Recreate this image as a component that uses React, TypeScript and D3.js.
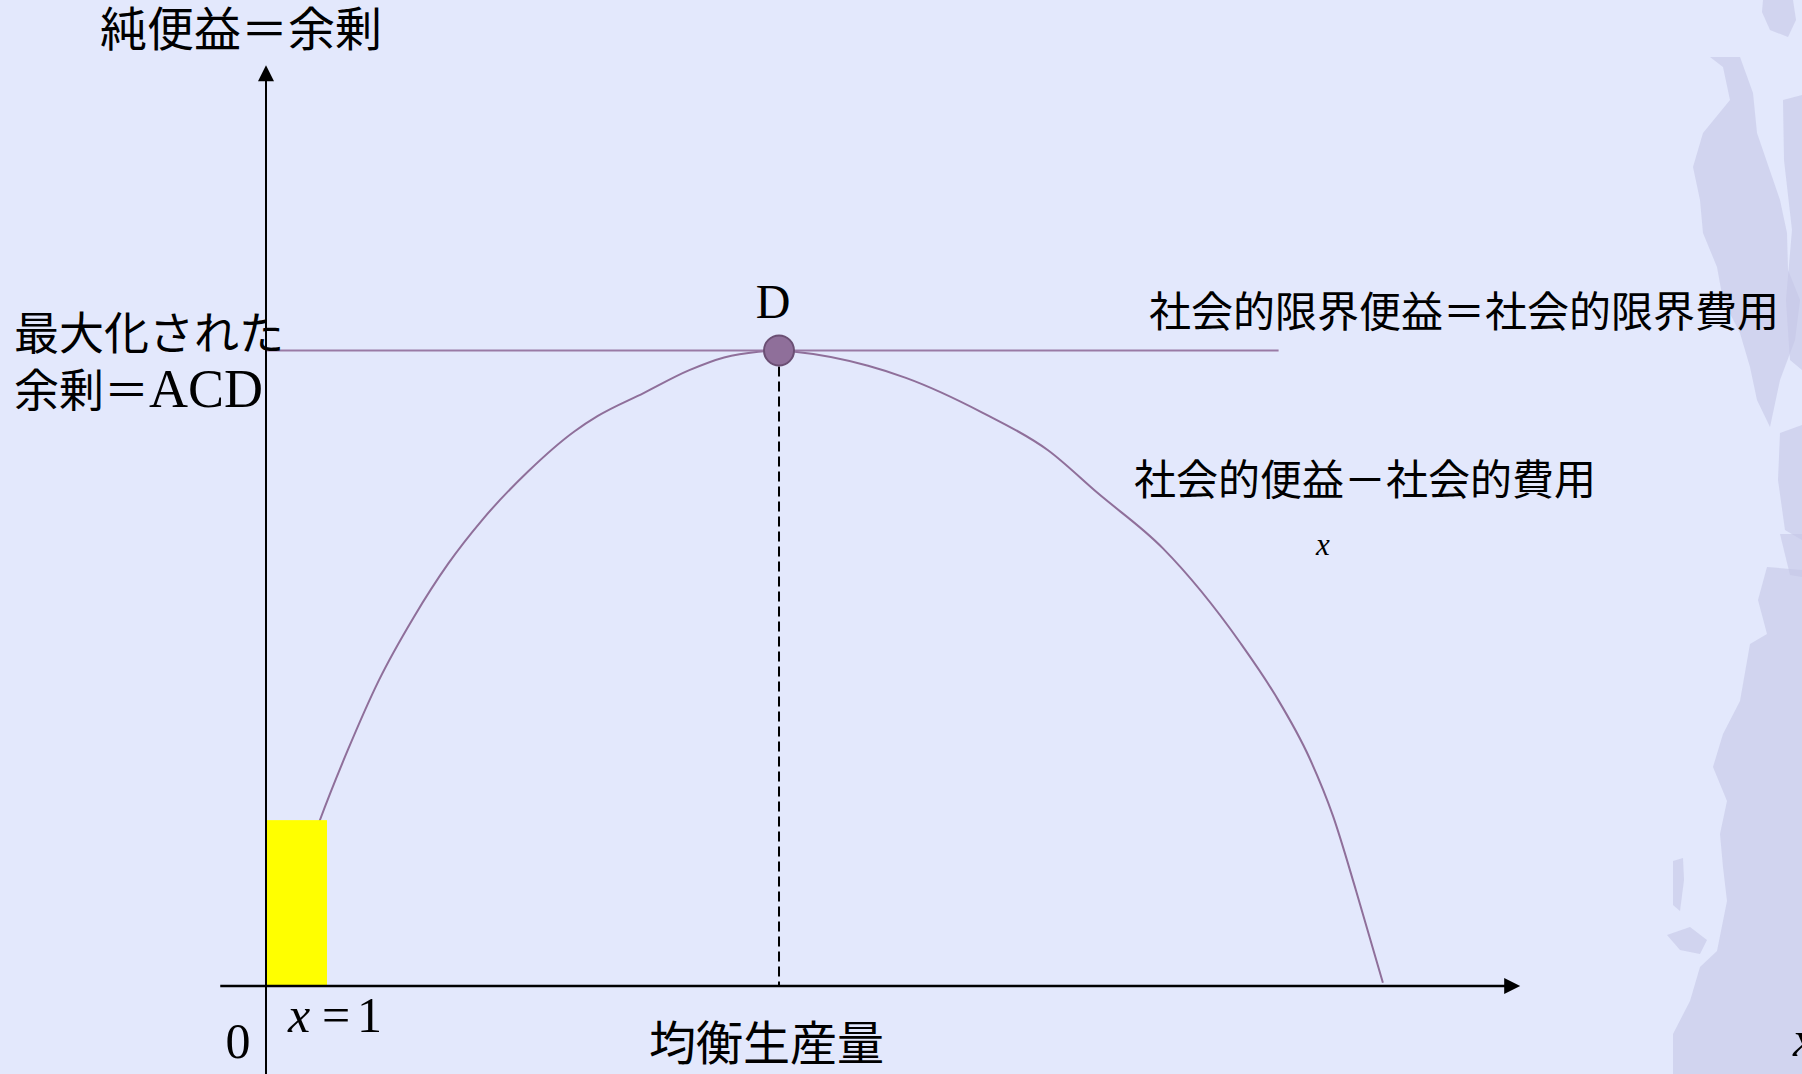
import React from "react";
import * as d3 from "d3";

// ---- data ----
// net benefit curve (social benefit − social cost), x in units of the x=1 bar width
const curveX = [0, 0.88, 1.34, 1.85, 2.42, 2.99, 3.55, 4.30, 5.06, 5.44, 6.19, 6.94, 7.51, 8.07, 8.41, 8.67, 9.87, 10.49, 11.75, 12.82, 13.63, 14.70, 15.98, 16.55, 17.11, 17.49, 17.87, 18.31];
const curveY = [0, 2.60, 3.71, 4.81, 5.80, 6.65, 7.34, 8.10, 8.73, 8.97, 9.33, 9.69, 9.89, 9.98, 10.0, 9.98, 9.76, 9.57, 9.02, 8.43, 7.76, 6.89, 5.39, 4.57, 3.58, 2.68, 1.50, 0.05];
const equilibriumX = 8.41;
const maxSurplus = 10;
const barX = [0, 1];
const barValue = 2.61;
const horizLineEnd = 16.6;
const xAxisRange = [-0.75, 20.56];
const yAxisRange = [-1.4, 14.49];

const labelYAxis = "純便益＝余剰";
const labelMax1 = "最大化された";
const labelMax2 = "余剰＝";
const labelACD = "ACD";
const labelD = "D";
const labelMarginal = "社会的限界便益＝社会的限界費用";
const labelNet = "社会的便益－社会的費用";
const labelEq = "均衡生産量";
const labelZero = "0";

const W = 1802;
const H = 1074;
const BG = "#e3e8fc";
const CURVE = "#8f6f9a";
const HLINE = "#9a7aa5";
const GRUNGE = "#c4c7e6";
const CJK = "'Noto Sans CJK JP', 'Noto Sans CJK SC', sans-serif";
const SERIF = "'Liberation Serif', 'DejaVu Serif', serif";

const grungeShapes: [number, number][][] = [
  [[1763, 0], [1793, 0], [1796, 20], [1788, 37], [1770, 30], [1762, 12]],
  [[1710, 57], [1740, 57], [1753, 93], [1757, 133], [1780, 200], [1787, 233], [1788, 270], [1800, 300], [1795, 340], [1780, 380], [1770, 427], [1757, 400], [1750, 367], [1740, 333], [1723, 300], [1717, 267], [1703, 233], [1700, 200], [1693, 167], [1703, 133], [1730, 100], [1723, 67]],
  [[1783, 100], [1802, 95], [1802, 370], [1790, 360], [1786, 300], [1792, 230], [1784, 160]],
  [[1780, 433], [1802, 425], [1802, 540], [1785, 530], [1778, 480]],
  [[1780, 534], [1802, 534], [1802, 577], [1790, 575]],
  [[1767, 567], [1802, 570], [1802, 1074], [1673, 1074], [1673, 1034], [1690, 1001], [1700, 967], [1717, 951], [1727, 901], [1723, 867], [1720, 834], [1727, 801], [1713, 767], [1723, 734], [1740, 701], [1750, 644], [1767, 634], [1758, 600]],
  [[1673, 861], [1683, 858], [1684, 880], [1680, 911], [1673, 905]],
  [[1667, 935], [1690, 927], [1707, 940], [1700, 954], [1680, 950]],
];

export default function App() {
  const x = d3.scaleLinear().domain([0, 20]).range([266, 266 + 61 * 20]);
  const y = d3.scaleLinear().domain([0, maxSurplus]).range([986, 350.5]);

  const pts: [number, number][] = curveX.map((v, i) => [v, curveY[i]]);
  const line = d3
    .line<[number, number]>()
    .x((d) => x(d[0]))
    .y((d) => y(d[1]))
    .curve(d3.curveMonotoneX);

  const x0 = x(0);
  const y0 = y(0);
  const xEnd = x(xAxisRange[1]);
  const yTop = y(yAxisRange[1]);
  const Dx = x(equilibriumX);
  const Dy = y(maxSurplus);

  return (
    <svg
      width={W}
      height={H}
      style={{ position: "fixed", left: 0, top: 0, display: "block" }}
      xmlns="http://www.w3.org/2000/svg"
    >
      <rect x={0} y={0} width={W} height={H} fill={BG} />
      {grungeShapes.map((s, i) => (
        <polygon key={i} points={s.map((p) => p.join(",")).join(" ")} fill={GRUNGE} opacity={0.6} />
      ))}

      {/* curve */}
      <path d={line(pts) || ""} fill="none" stroke={CURVE} strokeWidth={2} />

      {/* yellow bar x in [0,1] */}
      <rect
        x={x(barX[0])}
        y={y(barValue)}
        width={x(barX[1]) - x(barX[0])}
        height={y(0) - y(barValue)}
        fill="#ffff00"
      />

      {/* horizontal marginal line */}
      <line x1={x0} x2={x(horizLineEnd)} y1={Dy} y2={Dy} stroke={HLINE} strokeWidth={2} />

      {/* dashed vertical */}
      <line x1={Dx} x2={Dx} y1={Dy + 16} y2={y0} stroke="#000" strokeWidth={2} strokeDasharray="10,5" />

      {/* axes */}
      <line x1={x(xAxisRange[0])} x2={xEnd - 14} y1={y0} y2={y0} stroke="#000" strokeWidth={2.5} />
      <path d={`M${xEnd},${y0} L${xEnd - 16},${y0 - 8} L${xEnd - 16},${y0 + 8} Z`} fill="#000" />
      <line x1={x0} x2={x0} y1={y(yAxisRange[0])} y2={yTop + 14} stroke="#000" strokeWidth={2} />
      <path d={`M${x0},${yTop} L${x0 - 8},${yTop + 16} L${x0 + 8},${yTop + 16} Z`} fill="#000" />

      {/* point D */}
      <circle cx={Dx} cy={Dy} r={15} fill="#8f6f9a" stroke="#6b4f74" strokeWidth={2} />

      {/* texts */}
      <text x={100} y={46} fontFamily={CJK} fontSize={47} fill="#000">{labelYAxis}</text>
      <text x={14} y={350} fontFamily={CJK} fontSize={45} fill="#000">{labelMax1}</text>
      <text x={14} y={407} fontFamily={CJK} fontSize={45} fill="#000">
        {labelMax2}
        <tspan fontFamily={SERIF} fontSize={54}>{labelACD}</tspan>
      </text>
      <text x={Dx - 6} y={318} textAnchor="middle" fontFamily={SERIF} fontSize={48} fill="#000">{labelD}</text>
      <text x={1149} y={327} fontFamily={CJK} fontSize={42} fill="#000">{labelMarginal}</text>
      <text x={1134} y={495} fontFamily={CJK} fontSize={42} fill="#000">{labelNet}</text>
      <text x={1316} y={555} fontFamily={SERIF} fontStyle="italic" fontSize={31} fill="#000">x</text>
      <text x={238} y={1058} textAnchor="middle" fontFamily={SERIF} fontSize={50} fill="#000">{labelZero}</text>
      <text y={1032} fontFamily={SERIF} fontSize={50} fill="#000">
        <tspan x={288} fontStyle="italic">x</tspan>
        <tspan x={322}>=</tspan>
        <tspan x={357}>1</tspan>
      </text>
      <text x={649} y={1060} fontFamily={CJK} fontSize={47} fill="#000">{labelEq}</text>
      <text x={1793} y={1056} fontFamily={SERIF} fontStyle="italic" fontSize={50} fill="#000">x</text>
    </svg>
  );
}
